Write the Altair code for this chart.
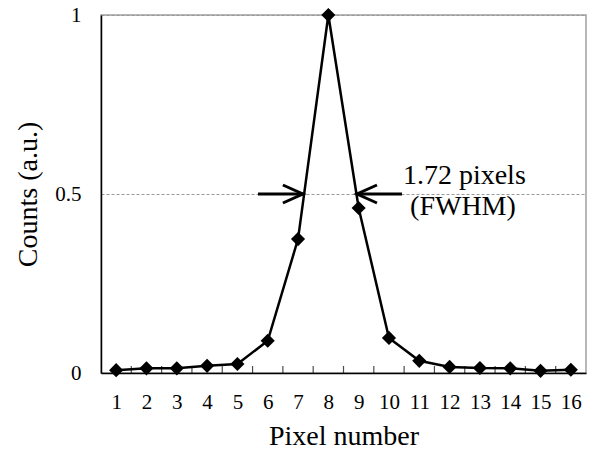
import altair as alt
import pandas as pd

pixels = list(range(1, 17))
counts = [0.008, 0.013, 0.013, 0.02, 0.025, 0.09, 0.374, 1.0, 0.461,
          0.098, 0.034, 0.017, 0.014, 0.013, 0.006, 0.009]
tick_positions = [i + 0.5 for i in range(1, 16)]

# FWHM arrows: (tail, tip) in pixel units, at half maximum
arrow_tails = [5.68, 10.43]
arrow_tips = [7.16, 8.945]
arrow_shapes = ["M-1,-0.45L0,0L-1,0.45", "M1,-0.45L0,0L1,0.45"]
half_max = 0.5

labels = ["1.72 pixels", "(FWHM)"]
label_x = [10.46, 12.44]
label_y = [0.528, 0.441]

FONT = "'Liberation Serif', 'Times New Roman', serif"

df = pd.DataFrame({"x": pixels, "y": counts})
ticks_df = pd.DataFrame({"x": tick_positions, "y": [0.0] * len(tick_positions)})
arr_df = pd.DataFrame({"x": arrow_tails, "x2": arrow_tips,
                       "y": [half_max] * 2, "shape": arrow_shapes})
lab1 = pd.DataFrame({"x": label_x[:1], "y": label_y[:1], "t": labels[:1]})
lab2 = pd.DataFrame({"x": label_x[1:], "y": label_y[1:], "t": labels[1:]})

xscale = alt.Scale(domain=[0.5, 16.5], nice=False, zero=False)
yscale = alt.Scale(domain=[0, 1], nice=False)
xaxis = alt.Axis(values=pixels, grid=False, ticks=False, labelPadding=18,
                 labelFontSize=21, labelFont=FONT, labelColor="black",
                 titleFont=FONT, titleFontSize=28, titleFontWeight="normal",
                 titleColor="black", titlePadding=10,
                 domainColor="black", domainWidth=1.5, labelFlush=False)
yaxis = alt.Axis(values=[0, 0.5, 1], grid=True, gridDash=[3, 2],
                 gridColor="#999999", gridWidth=1, ticks=False,
                 labelPadding=20, labelFontSize=21, labelFont=FONT,
                 labelColor="black", labelExpr="datum.value == 0.5 ? '0.5' : format(datum.value, 'd')",
                 titleFont=FONT, titleFontSize=28, titleFontWeight="normal",
                 titleColor="black", titlePadding=12,
                 domainColor="black", domainWidth=1.5)


def X(f):
    return alt.X(f, type="quantitative", scale=xscale, axis=xaxis, title="Pixel number")


def Y(f):
    return alt.Y(f, type="quantitative", scale=yscale, axis=yaxis, title="Counts (a.u.)")


line = alt.Chart(df).mark_line(color="black", strokeWidth=2.5).encode(x=X("x"), y=Y("y"))
pts = alt.Chart(df).mark_point(shape="diamond", filled=True, color="black",
                               size=200, opacity=1).encode(x=X("x"), y=Y("y"))
ticks = alt.Chart(ticks_df).mark_tick(color="black", thickness=1.2, size=7,
                                      orient="vertical", yOffset=-3.5).encode(x=X("x"), y=Y("y"))
shafts = alt.Chart(arr_df).mark_rule(color="black", strokeWidth=3).encode(
    x=X("x"), x2="x2", y=Y("y"))
heads = alt.Chart(arr_df).mark_point(filled=False, color="black", strokeWidth=3,
                                     size=1600, opacity=1).encode(
    x=X("x2"), y=Y("y"), shape=alt.Shape("shape:N", scale=None, legend=None))
text1 = alt.Chart(lab1).mark_text(font=FONT, fontSize=28, color="black",
                                  baseline="alphabetic", align="left").encode(
    x=X("x"), y=Y("y"), text="t:N")
text2 = alt.Chart(lab2).mark_text(font=FONT, fontSize=28, color="black",
                                  baseline="alphabetic", align="center").encode(
    x=X("x"), y=Y("y"), text="t:N")

chart = alt.layer(ticks, line, pts, shafts, heads, text1, text2).properties(
    width=485, height=358,
    background="white",
    autosize=alt.AutoSizeParams(type="none"),
    padding={"left": 101, "top": 15, "right": 12, "bottom": 87},
).configure_view(stroke="#a0a0a0", strokeWidth=1.5)

chart.save("out.html", embed_options={"renderer": "svg", "actions": False})
